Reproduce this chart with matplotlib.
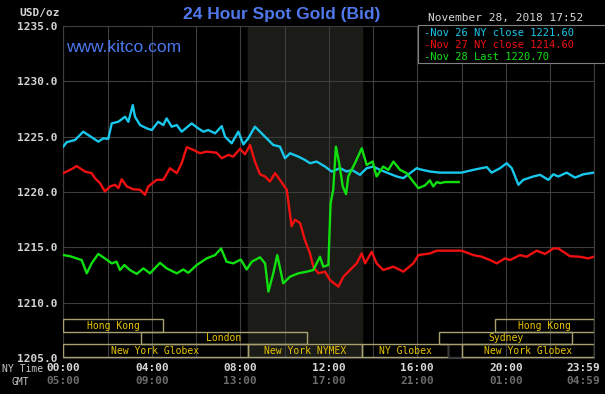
import matplotlib
matplotlib.use("Agg")
import matplotlib.pyplot as plt
from matplotlib.patches import Rectangle

# Nov 26 (cyan) - hours after midnight NY time, price
nov26_hours = [0.0, 0.15, 0.53, 0.9, 1.13, 1.58, 1.81, 2.03, 2.19, 2.49, 2.79, 2.94, 3.14, 3.24,
               3.47, 3.77, 4.0, 4.29, 4.52, 4.67, 4.9, 5.13, 5.35, 5.8, 6.1, 6.33, 6.55, 6.86,
               7.16, 7.31, 7.61, 7.91, 8.14, 8.36, 8.66, 8.89, 9.19, 9.49, 9.79, 10.02, 10.25,
               10.62, 10.92, 11.15, 11.45, 11.83, 12.13, 12.51, 12.81, 13.04, 13.41, 13.71,
               14.01, 14.31, 14.69, 15.07, 15.37, 15.67, 15.97, 16.12, 16.57, 17.03, 18.0,
               18.53, 19.14, 19.36, 19.74, 20.04, 20.27, 20.57, 20.79, 21.24, 21.55, 21.92,
               22.15, 22.37, 22.75, 23.13, 23.5, 23.98]
nov26_price = [1224.1, 1224.5, 1224.7, 1225.45, 1225.15, 1224.55, 1224.85, 1224.8, 1226.2,
               1226.35, 1226.8, 1226.35, 1227.85, 1226.8, 1226.05, 1225.75, 1225.6, 1226.35,
               1226.05, 1226.65, 1225.9, 1226.05, 1225.45, 1226.2, 1225.75, 1225.45, 1225.6,
               1225.3, 1225.95, 1225.0, 1224.4, 1225.45, 1224.3, 1224.85, 1225.9, 1225.45,
               1224.85, 1224.25, 1224.1, 1223.05, 1223.5, 1223.2, 1222.9, 1222.6, 1222.75,
               1222.3, 1221.85, 1222.15, 1221.85, 1222.0, 1221.55, 1222.15, 1222.3, 1222.0,
               1221.7, 1221.4, 1221.25, 1221.7, 1222.15, 1222.05, 1221.85, 1221.75, 1221.75,
               1222.0, 1222.25, 1221.75, 1222.15, 1222.6, 1222.15, 1220.65, 1221.1, 1221.4,
               1221.55, 1221.1, 1221.6, 1221.4, 1221.75, 1221.3, 1221.6, 1221.75]

# Nov 27 (red)
nov27_hours = [0.0, 0.45, 0.6, 0.98, 1.28, 1.43, 1.66, 1.88, 2.11, 2.34, 2.49, 2.64, 2.87, 3.16,
               3.47, 3.69, 3.84, 4.22, 4.52, 4.82, 5.13, 5.35, 5.58, 5.88, 6.18, 6.48, 6.93,
               7.16, 7.46, 7.68, 7.99, 8.21, 8.44, 8.66, 8.89, 9.12, 9.34, 9.57, 9.79, 10.1,
               10.32, 10.47, 10.7, 10.92, 11.15, 11.3, 11.53, 11.83, 12.05, 12.43, 12.66,
               12.96, 13.26, 13.49, 13.64, 13.94, 14.16, 14.46, 14.92, 15.37, 15.82, 16.05,
               16.57, 16.88, 18.0, 18.53, 18.91, 19.29, 19.59, 19.96, 20.19, 20.64, 20.94,
               21.4, 21.77, 22.15, 22.37, 22.9, 23.35, 23.73, 23.98]
nov27_price = [1221.7, 1222.15, 1222.35, 1221.85, 1221.7, 1221.25, 1220.8, 1220.05, 1220.5,
               1220.65, 1220.35, 1221.15, 1220.5, 1220.25, 1220.2, 1219.75, 1220.5, 1221.1,
               1221.1, 1222.15, 1221.7, 1222.6, 1224.05, 1223.8, 1223.5, 1223.65, 1223.55,
               1223.05, 1223.35, 1223.2, 1223.9, 1223.4, 1224.25, 1222.75, 1221.6, 1221.4,
               1220.95, 1221.7, 1221.1, 1220.2, 1216.9, 1217.5, 1217.2, 1215.65, 1214.45,
               1213.25, 1212.65, 1212.8, 1212.05, 1211.45, 1212.35, 1212.95, 1213.55,
               1214.45, 1213.55, 1214.6, 1213.55, 1212.95, 1213.25, 1212.8, 1213.55, 1214.3,
               1214.45, 1214.7, 1214.7, 1214.3, 1214.15, 1213.85, 1213.55, 1214.0, 1213.85,
               1214.3, 1214.15, 1214.7, 1214.4, 1214.9, 1214.9, 1214.2, 1214.15, 1214.0,
               1214.15]

# Nov 28 (green, until 17:52)
nov28_hours = [0.0, 0.3, 0.6, 0.83, 1.06, 1.28, 1.58, 1.88, 2.19, 2.41, 2.56, 2.76, 3.01, 3.32,
               3.62, 3.92, 4.37, 4.67, 5.13, 5.42, 5.65, 6.03, 6.48, 6.86, 7.13, 7.38, 7.68,
               8.02, 8.29, 8.52, 8.89, 9.12, 9.27, 9.49, 9.67, 9.94, 10.25, 10.62, 11.0, 11.3,
               11.6, 11.75, 11.98, 12.08, 12.2, 12.32, 12.47, 12.63, 12.78, 12.88, 13.18,
               13.49, 13.71, 13.98, 14.16, 14.46, 14.69, 14.92, 15.22, 15.52, 15.75, 16.05,
               16.35, 16.57, 16.72, 16.88, 17.03, 17.25, 17.87]
nov28_price = [1214.3, 1214.2, 1214.0, 1213.85, 1212.65, 1213.55, 1214.4, 1214.0, 1213.55,
               1213.7, 1212.95, 1213.4, 1212.95, 1212.6, 1213.1, 1212.65, 1213.6, 1213.1,
               1212.65, 1213.0, 1212.7, 1213.4, 1214.0, 1214.3, 1214.9, 1213.7, 1213.55,
               1213.9, 1213.0, 1213.7, 1214.1, 1213.55, 1211.0, 1212.65, 1214.3, 1211.75,
               1212.35, 1212.65, 1212.8, 1212.95, 1214.15, 1213.25, 1213.4, 1218.95, 1220.2,
               1224.1, 1222.6, 1220.5, 1219.8, 1221.4, 1222.6, 1223.95, 1222.45, 1222.75,
               1221.4, 1222.3, 1222.0, 1222.75, 1222.0, 1221.7, 1221.1, 1220.35, 1220.6,
               1221.05, 1220.5, 1220.9, 1220.8, 1220.9, 1220.9]

legend_labels = ["-Nov 26 NY close 1221.60", "-Nov 27 NY close 1214.60", "-Nov 28 Last 1220.70"]
y_ticks = [1205, 1210, 1215, 1220, 1225, 1230, 1235]
ny_times = ["00:00", "04:00", "08:00", "12:00", "16:00", "20:00"]
gmt_times = ["05:00", "09:00", "13:00", "17:00", "21:00", "01:00"]

# market sessions: name, start hour, end hour, row (0 = top)
sessions = [
    ("Hong Kong", 0.0, 4.5, 0),
    ("London", 3.5, 11.0, 1),
    ("New York Globex", 0.0, 8.33, 2),
    ("New York NYMEX", 8.33, 13.5, 2),
    ("NY Globex", 13.5, 17.4, 2),
    ("", 17.4, 18.0, 2),
    ("New York Globex", 18.0, 24.0, 2),
    ("Sydney", 17.0, 23.0, 1),
    ("Hong Kong", 19.5, 24.0, 0),
]

MONO = "DejaVu Sans Mono"
W, H = 605, 394

fig = plt.figure(figsize=(6.05, 3.94), dpi=100, facecolor="black")
ax = fig.add_axes([63.3 / W, 1 - 358 / H, 531 / W, 332 / H], facecolor="black")

ax.axvspan(8.33, 13.5, color="#1b1b17", zorder=0)
ax.set_xlim(0, 24)
ax.set_ylim(1205, 1235)
ax.set_xticks(range(0, 25, 2))
ax.set_yticks(y_ticks)
ax.grid(True, color="#3e3e3e", linewidth=0.8, zorder=1)
ax.set_axisbelow(True)
ax.tick_params(length=0, labelbottom=False, pad=4)
ax.set_yticklabels([f"{v:.1f}" for v in y_ticks], color="#d4d4d4",
                   fontfamily=MONO, fontweight="bold", fontsize=8)
for s in ax.spines.values():
    s.set_color("#3e3e3e")

ax.plot(nov26_hours, nov26_price, color="#18c8ec", lw=1.7, zorder=3)
ax.plot(nov27_hours, nov27_price, color="#f01010", lw=1.7, zorder=3)
ax.plot(nov28_hours, nov28_price, color="#10e010", lw=1.7, zorder=4)

# session boxes along the bottom
trans = ax.get_xaxis_transform()
row_bottom = [0.079, 0.041, 0.004]
row_h = 0.037
for name, start, end, row in sessions:
    edge = "#a8a070" if name else "#383838"
    ax.add_patch(Rectangle((start, row_bottom[row]), end - start, row_h, transform=trans,
                           fill=False, edgecolor=edge, linewidth=1.0, zorder=5))
    if name:
        ax.text((start + end) / 2, row_bottom[row] + row_h / 2, name, transform=trans,
                ha="center", va="center", color="#e8c400", fontfamily=MONO,
                fontsize=7, zorder=6)

# time labels under the axis
for i, (ny, gmt) in enumerate(zip(ny_times, gmt_times)):
    ax.text(i * 4, -0.03, ny, transform=trans, ha="center", va="center",
            color="#d8d8d8", fontfamily=MONO, fontweight="bold", fontsize=8)
    ax.text(i * 4, -0.069, gmt, transform=trans, ha="center", va="center",
            color="#6c6c6c", fontfamily=MONO, fontweight="bold", fontsize=8)
fig.text(600 / W, 1 - 368 / H, "23:59", ha="right", va="center", color="#d8d8d8",
         fontfamily=MONO, fontweight="bold", fontsize=8)
fig.text(600 / W, 1 - 381 / H, "04:59", ha="right", va="center", color="#6c6c6c",
         fontfamily=MONO, fontweight="bold", fontsize=8)
fig.text(2 / W, 1 - 369 / H, "NY Time", ha="left", va="center", color="#c8c8c8",
         fontfamily=MONO, fontsize=7)
fig.text(20 / W, 1 - 382 / H, "GMT", ha="center", va="center", color="#c8c8c8",
         fontfamily=MONO, fontsize=7)

fig.text(60 / W, 1 - 13 / H, "USD/oz", ha="right", va="center", color="#d4d4d4",
         fontfamily=MONO, fontweight="bold", fontsize=8)
fig.text(282 / W, 1 - 15 / H, "24 Hour Spot Gold (Bid)", ha="center", va="center",
         color="#5078ec", fontfamily="Liberation Sans", fontweight="bold", fontsize=12.5)
fig.text(66 / W, 1 - 47 / H, "www.kitco.com", ha="left", va="center",
         color="#4a78f0", fontfamily="Liberation Sans", fontsize=12.5)
fig.text(583 / W, 1 - 18 / H, "November 28, 2018 17:52", ha="right", va="center",
         color="#d8d8d8", fontfamily=MONO, fontsize=8)

# legend box
fig.patches.append(Rectangle((418 / W, 1 - 63 / H), 190 / W, 38 / H, transform=fig.transFigure,
                             facecolor="black", edgecolor="#808080", linewidth=0.8, zorder=10))
for label, color, ypx in zip(legend_labels, ["#18c8ec", "#f01010", "#10e010"], [33, 45, 57]):
    fig.text(424 / W, 1 - ypx / H, label, ha="left", va="center", color=color,
             fontfamily=MONO, fontsize=7.5, zorder=11)

fig.savefig("out.png", dpi=100, facecolor="black")
